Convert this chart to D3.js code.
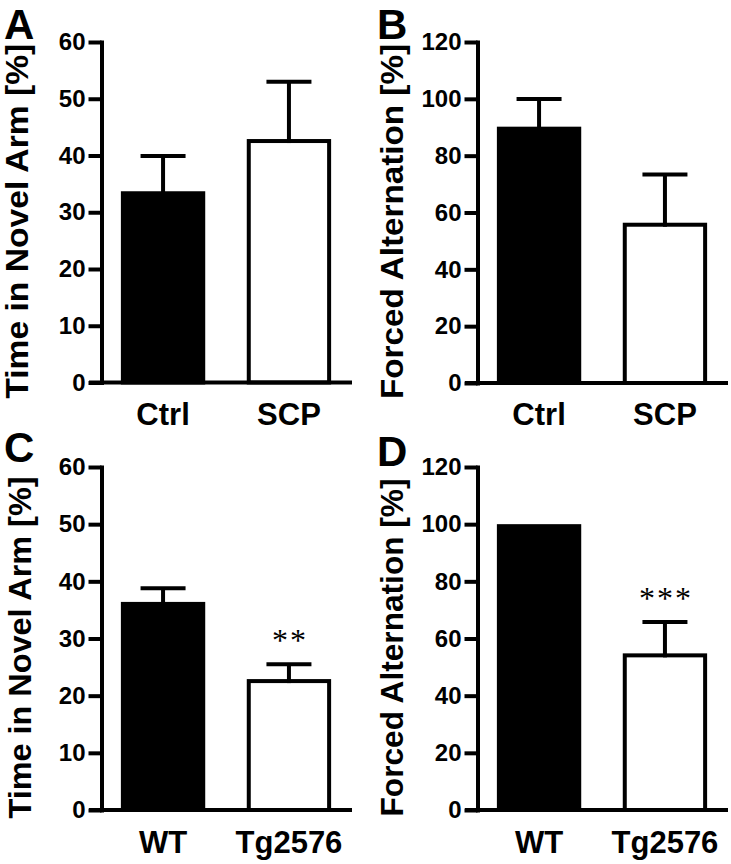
<!DOCTYPE html>
<html>
<head>
<meta charset="utf-8">
<script src="https://cdn.jsdelivr.net/npm/d3@7"></script>
<style>
  html, body { margin: 0; padding: 0; background: #fff; }
  svg { display: block; }
</style>
</head>
<body>
<script>
// ---------- data ----------
const panelLetters = ["A", "B", "C", "D"];
const categoriesTop = ["Ctrl", "SCP"];
const categoriesBottom = ["WT", "Tg2576"];
const meansA = [33.7, 42.9];
const semA = [6.2, 10.1];
const meansB = [90.2, 56.4];
const semB = [9.7, 17.0];
const meansC = [36.4, 22.9];
const semC = [2.4, 2.6];
const meansD = [100, 54.8];
const semD = [0, 11.0];
const sigC = ["", "**"];
const sigD = ["", "***"];
const ticksNovel = [0, 10, 20, 30, 40, 50, 60];
const ticksAlt = [0, 20, 40, 60, 80, 100, 120];
const yTitleNovel = "Time in Novel Arm [%]";
const yTitleAlt = "Forced Alternation [%]";
const barFills = ["#000000", "#ffffff"];

// ---------- layout ----------
const W = 731, H = 864;
const svg = d3.select("body").append("svg").attr("width", W).attr("height", H);
const FONT = "'Liberation Sans', Arial, Helvetica, sans-serif";

const panels = [
  { letter: panelLetters[0], cats: categoriesTop, means: meansA, sems: semA, sig: null, ticks: ticksNovel, title: yTitleNovel,
    axisX: 102, y0: 382.5, yTop: 42, xEnd: 352, letterX: 4, letterY: 39, titleX: 28, titleLen: 355, labelY: 425 },
  { letter: panelLetters[1], cats: categoriesTop, means: meansB, sems: semB, sig: null, ticks: ticksAlt, title: yTitleAlt,
    axisX: 478, y0: 383, yTop: 42, xEnd: 728, letterX: 377, letterY: 39, titleX: 403, titleLen: 355, labelY: 425 },
  { letter: panelLetters[2], cats: categoriesBottom, means: meansC, sems: semC, sig: sigC, ticks: ticksNovel, title: yTitleNovel,
    axisX: 102, y0: 810, yTop: 467, xEnd: 352, letterX: 4, letterY: 462, titleX: 31, titleLen: 342, labelY: 853 },
  { letter: panelLetters[3], cats: categoriesBottom, means: meansD, sems: semD, sig: sigD, ticks: ticksAlt, title: yTitleAlt,
    axisX: 478, y0: 810, yTop: 467, xEnd: 728, letterX: 377, letterY: 466, titleX: 403, titleLen: 338, labelY: 853 }
];

const SW = 4;

panels.forEach(p => {
  const g = svg.append("g");
  const ymax = p.ticks[p.ticks.length - 1];
  const y = d3.scaleLinear().domain([0, ymax]).range([p.y0, p.yTop]);
  const x = d3.scaleBand().domain(p.cats).range([p.axisX, p.axisX + 248])
              .paddingInner(0.33).paddingOuter(0.15);

  // bars
  g.selectAll("rect.bar").data(p.cats).enter().append("rect")
    .attr("class", "bar")
    .attr("x", d => x(d) + SW / 2)
    .attr("width", x.bandwidth() - SW)
    .attr("y", (d, i) => y(p.means[i]) + SW / 2)
    .attr("height", (d, i) => p.y0 - y(p.means[i]) - SW / 2)
    .attr("fill", (d, i) => barFills[i])
    .attr("stroke", "#000").attr("stroke-width", SW);

  // error bars (upper only)
  p.cats.forEach((c, i) => {
    if (!p.sems[i]) return;
    const cx = x(c) + x.bandwidth() / 2;
    const yt = y(p.means[i] + p.sems[i]);
    g.append("line").attr("x1", cx).attr("x2", cx)
      .attr("y1", y(p.means[i]) + SW).attr("y2", yt)
      .attr("stroke", "#000").attr("stroke-width", SW);
    g.append("line").attr("x1", cx - 22.5).attr("x2", cx + 22.5)
      .attr("y1", yt).attr("y2", yt)
      .attr("stroke", "#000").attr("stroke-width", SW);
    if (p.sig && p.sig[i]) {
      g.append("text").attr("x", cx + 1).attr("y", yt - 13)
        .attr("text-anchor", "middle")
        .attr("font-family", "'Liberation Serif', 'Times New Roman', serif")
        .attr("font-size", 32).attr("letter-spacing", 2)
        .text(p.sig[i]);
    }
  });

  // y axis
  const yAxis = d3.axisLeft(y).tickValues(p.ticks).tickSize(13).tickPadding(3).tickSizeOuter(0);
  const ga = g.append("g").attr("transform", `translate(${p.axisX - 0.5},0)`).call(yAxis);
  ga.select(".domain").attr("stroke-width", SW).attr("stroke-linecap", "square");
  ga.selectAll(".tick line").attr("stroke-width", SW);
  ga.selectAll(".tick text").attr("font-family", FONT).attr("font-weight", "bold")
    .attr("font-size", 24).attr("fill", "#000");
  ga.attr("font-family", null).attr("font-size", null);

  // x axis baseline (extends to tick end)
  g.append("line").attr("x1", p.axisX - 13).attr("x2", p.xEnd)
    .attr("y1", p.y0).attr("y2", p.y0)
    .attr("stroke", "#000").attr("stroke-width", SW);

  // category labels
  const xAxis = d3.axisBottom(x).tickSize(0).tickPadding(0);
  const gx = g.append("g").attr("transform", `translate(0,${p.labelY})`).call(xAxis);
  gx.select(".domain").remove();
  gx.selectAll(".tick text").attr("font-family", FONT).attr("font-weight", "bold")
    .attr("font-size", 31).attr("fill", "#000").attr("dy", 0).attr("y", 0);
  gx.attr("font-family", null).attr("font-size", null);

  // y title
  const cy = (p.y0 + p.yTop) / 2 + 9;
  g.append("text")
    .attr("transform", `translate(${p.titleX},${cy}) rotate(-90)`)
    .attr("text-anchor", "middle")
    .attr("font-family", FONT).attr("font-weight", "bold").attr("font-size", 32)
    .attr("textLength", p.titleLen).attr("lengthAdjust", "spacingAndGlyphs")
    .text(p.title);

  // panel letter
  g.append("text").attr("x", p.letterX).attr("y", p.letterY)
    .attr("font-family", FONT).attr("font-weight", "bold").attr("font-size", 42)
    .text(p.letter);
});
</script>
</body>
</html>
